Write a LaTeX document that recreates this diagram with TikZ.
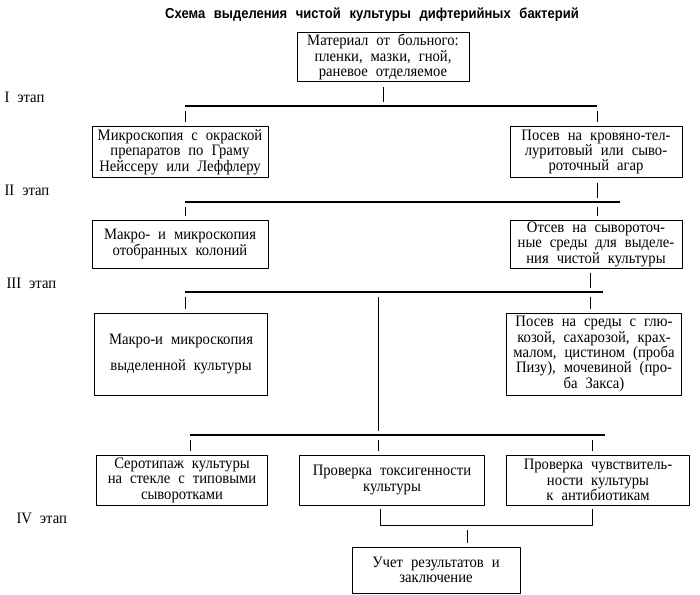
\documentclass[tikz,border=0pt]{standalone}
\usepackage{fontspec}
\setmainfont{Liberation Serif}
\newfontfamily\titlefont{Liberation Sans}[FakeStretch=0.9]
\newfontfamily\boxfont{Liberation Serif}[FakeStretch=0.92]
\newcommand\boxsize{\boxfont\fontsize{16}{15.5}\selectfont\spaceskip=0.5em plus 0.2em minus 0.1em\relax}
\begin{document}
\begin{tikzpicture}[x=1bp,y=-1bp,line join=bevel,
  box/.style={draw,line width=0.8pt,inner sep=1bp,align=center,font=\boxsize},
  link/.style={line width=0.7pt,shorten <=5bp,shorten >=4bp},
  bar/.style={line width=1.1pt},
  stage/.style={anchor=west,font=\boxsize}]
%%
\useasboundingbox (0,0) rectangle (700,595);
\node (node_title) at (372,15) {\titlefont\bfseries\fontsize{14.5}{15}\selectfont\spaceskip=0.6em\relax Схема выделения чистой культуры дифтерийных бактерий};
%
\node (node_mat) at (383,57) [box,minimum width=172bp,minimum height=49bp] {Материал от больного:\\пленки, мазки, гной,\\раневое отделяемое};
\node (node_mic) at (180,152) [box,minimum width=176bp,minimum height=51bp] {Микроскопия с окраской\\препаратов по Граму\\Нейссеру или Леффлеру};
\node (node_pos) at (596,152) [box,minimum width=172bp,minimum height=51bp] {Посев на кровяно-тел-\\луритовый или сыво-\\роточный агар};
\node (node_mak) at (180,244) [box,minimum width=176bp,minimum height=48bp] {Макро- и микроскопия\\отобранных колоний};
\node (node_ots) at (596,244) [box,minimum width=172bp,minimum height=48bp] {Отсев на сывороточ-\\ные среды для выделе-\\ния чистой культуры};
\node (node_vyd) at (181,354) [box,minimum width=173bp,minimum height=82bp] {Макро-и микроскопия\\[10bp]выделенной культуры};
\node (node_sre) at (594,354) [box,minimum width=175bp,minimum height=82bp] {Посев на среды с глю-\\козой, сахарозой, крах-\\малом, цистином (проба\\Пизу), мочевиной (про-\\ба Закса)};
\node (node_ser) at (182,480) [box,minimum width=171bp,minimum height=50bp] {Серотипаж культуры\\на стекле с типовыми\\сыворотками};
\node (node_tox) at (392,480) [box,minimum width=185bp,minimum height=50bp] {Проверка токсигенности\\культуры};
\node (node_chu) at (598,480) [box,minimum width=183bp,minimum height=50bp] {Проверка чувствитель-\\ности культуры\\к антибиотикам};
\node (node_res) at (436,570) [box,minimum width=168bp,minimum height=46bp] {Учет результатов и\\заключение};
%
\node (node_st1) at (1,97) [stage] {I этап};
\node (node_st2) at (1,190) [stage] {II этап};
\node (node_st3) at (3,283) [stage] {III этап};
\node (node_st4) at (13,518) [stage] {IV этап};
%
\coordinate (bar1_l) at (185,106);
\coordinate (bar1_r) at (597,106);
\coordinate (bar2_l) at (185,202);
\coordinate (bar2_r) at (620,202);
\coordinate (bar2_m) at (597,202);
\coordinate (bar3_l) at (185,292);
\coordinate (bar3_r) at (603,292);
\coordinate (bar3_m) at (378,292);
\coordinate (bar3_q) at (590,292);
\coordinate (bar4_l) at (190,435);
\coordinate (bar4_r) at (605,435);
\coordinate (bar4_m) at (378,435);
\coordinate (bar4_q) at (592,435);
\coordinate (bar5_l) at (380,525);
\coordinate (bar5_r) at (592,525);
\coordinate (bar5_m) at (467,525);
%
\draw [link] (node_mat) -- (node_mat |- bar1_l);
\draw [bar] (bar1_l) -- (bar1_r);
\draw [link] (bar1_l) -- (bar1_l |- node_mic.north);
\draw [link] (bar1_r) -- (bar1_r |- node_pos.north);
%
\draw [link] (bar2_m |- node_pos.south) -- (bar2_m);
\draw [bar] (bar2_l) -- (bar2_r);
\draw [link] (bar2_l) -- (bar2_l |- node_mak.north);
\draw [link] (bar2_m) -- (bar2_m |- node_ots.north);
%
\draw [link] (bar3_q |- node_ots.south) -- (bar3_q);
\draw [bar] (bar3_l) -- (bar3_r);
\draw [link] (bar3_l) -- (bar3_l |- node_vyd.north);
\draw [link] (bar3_m) -- (bar4_m);
\draw [link] (bar3_q) -- (bar3_q |- node_sre.north);
%
\draw [bar] (bar4_l) -- (bar4_r);
\draw [link] (bar4_l) -- (bar4_l |- node_ser.north);
\draw [link] (bar4_m) -- (bar4_m |- node_tox.north);
\draw [link] (bar4_q) -- (bar4_q |- node_chu.north);
%
\draw [line width=0.8pt,shorten <=4bp,shorten >=4bp] (bar5_l |- node_tox.south) -- (bar5_l) -- (bar5_r) -- (bar5_r |- node_chu.south);
\draw [link] (bar5_m) -- (bar5_m |- node_res.north);
%
\end{tikzpicture}
\end{document}
